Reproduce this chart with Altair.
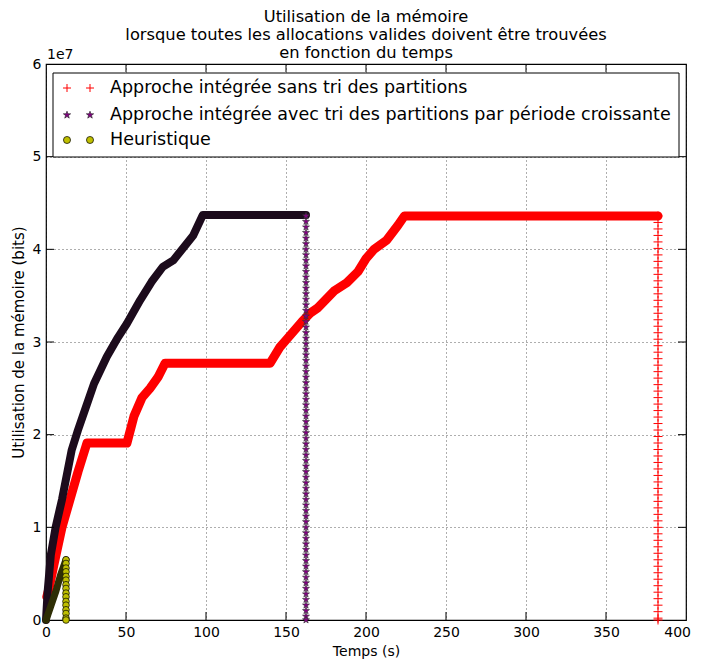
import altair as alt
import pandas as pd

# ---- data (memory in units of 1e7 bits) ----
temps_sans = [0.5, 2, 5, 10, 15, 20, 25.6, 50.6, 55, 60, 65, 70, 74.4, 140, 146, 150, 155, 160, 165, 170, 175,
              180, 188, 195, 200, 205, 213, 220, 224, 382.5]
mem_sans = [0.25, 0.35, 0.6, 1.0, 1.3, 1.6, 1.91, 1.91, 2.2, 2.4, 2.5, 2.62, 2.77, 2.77, 2.94, 3.02, 3.12, 3.22,
            3.31, 3.37, 3.46, 3.55, 3.64, 3.76, 3.9, 4.0, 4.1, 4.26, 4.36, 4.36]

temps_avec = [0, 1, 3, 6, 10, 16, 20, 25, 30, 38, 45, 50.6, 58.8, 66, 73, 79.5, 86, 92, 98, 162.5]
mem_avec = [0.0, 0.3, 0.7, 1.0, 1.3, 1.83, 2.05, 2.3, 2.55, 2.84, 3.05, 3.2, 3.45, 3.65, 3.81, 3.88, 4.02,
            4.15, 4.37, 4.37]

temps_heur = [0, 3, 6, 9, 12.5]
mem_heur = [0.0, 0.15, 0.3, 0.48, 0.65]

chute_sans_t = 382.5
chute_sans = [4.36, 4.29, 4.22, 4.15, 4.08, 4.01, 3.94, 3.87, 3.80, 3.73, 3.66, 3.59, 3.52, 3.45, 3.38, 3.31,
              3.24, 3.17, 3.10, 3.03, 2.96, 2.89, 2.82, 2.75, 2.68, 2.61, 2.54, 2.47, 2.40, 2.33, 2.26, 2.19,
              2.12, 2.05, 1.98, 1.91, 1.84, 1.77, 1.70, 1.63, 1.56, 1.49, 1.42, 1.35, 1.28, 1.21, 1.14, 1.07,
              1.00, 0.93, 0.86, 0.79, 0.72, 0.65, 0.58, 0.51, 0.44, 0.37, 0.30, 0.23, 0.16, 0.09, 0.02, 0.00]

chute_avec_t = 162.5
chute_avec = [4.36, 4.30, 4.24, 4.18, 4.12, 4.06, 4.00, 3.94, 3.88, 3.82, 3.76, 3.70, 3.64, 3.58, 3.52, 3.46,
              3.40, 3.34, 3.28, 3.22, 3.16, 3.10, 3.04, 2.98, 2.92, 2.86, 2.80, 2.74, 2.68, 2.62, 2.56, 2.50,
              2.44, 2.38, 2.32, 2.26, 2.20, 2.14, 2.08, 2.02, 1.96, 1.90, 1.84, 1.78, 1.72, 1.66, 1.60, 1.54,
              1.48, 1.42, 1.36, 1.30, 1.24, 1.18, 1.12, 1.06, 1.00, 0.94, 0.88, 0.82, 0.76, 0.70, 0.64, 0.58,
              0.52, 0.46, 0.40, 0.34, 0.28, 0.22, 0.16, 0.10, 0.04, 0.00]

chute_heur_t = 12.5
chute_heur = [0.65, 0.61, 0.56, 0.52, 0.47, 0.43, 0.38, 0.34, 0.29, 0.25, 0.20, 0.16, 0.11, 0.07, 0.02, 0.00]

x_ticks = [0, 50, 100, 150, 200, 250, 300, 350, 400]
y_ticks = [0, 1, 2, 3, 4, 5, 6]

legend_labels = ["Approche intégrée sans tri des partitions",
                 "Approche intégrée avec tri des partitions par période croissante",
                 "Heuristique"]

title_lines = ["Utilisation de la mémoire",
               "lorsque toutes les allocations valides doivent être trouvées",
               "en fonction du temps"]

# ---- layout ----
W, H = 640, 556
FONT = "DejaVu Sans"
PLUS = "M-1,0L1,0M0,-1L0,1"
STAR = "M0,-1L0.235,-0.324L0.951,-0.309L0.380,0.124L0.588,0.809L0,0.4L-0.588,0.809L-0.380,0.124L-0.951,-0.309L-0.235,-0.324Z"

xs = alt.Scale(domain=[0, 400], nice=False, zero=False)
ys = alt.Scale(domain=[0, 6], nice=False, zero=False)

X = alt.X("t:Q", scale=xs, title="Temps (s)",
          axis=alt.Axis(values=x_ticks, format="d", grid=True, labelFlush=True, labelFlushOffset=4.5))
Y = alt.Y("m:Q", scale=ys, title="Utilisation de la mémoire (bits)",
          axis=alt.Axis(values=y_ticks, format="d", grid=True, labelFlush=False, titleFontSize=15))

df_sans = pd.DataFrame({"t": temps_sans, "m": mem_sans})
df_avec = pd.DataFrame({"t": temps_avec, "m": mem_avec})
df_heur = pd.DataFrame({"t": temps_heur, "m": mem_heur})
df_cs = pd.DataFrame({"t": [chute_sans_t] * len(chute_sans), "m": chute_sans})
df_ca = pd.DataFrame({"t": [chute_avec_t] * len(chute_avec), "m": chute_avec})
df_ch = pd.DataFrame({"t": [chute_heur_t] * len(chute_heur), "m": chute_heur})

line_sans = alt.Chart(df_sans).mark_line(color="#ff0000", strokeWidth=9, strokeJoin="round",
                                         strokeCap="round").encode(x=X, y=Y)
line_avec = alt.Chart(df_avec).mark_line(color="#1c0b1c", strokeWidth=8, strokeJoin="round",
                                         strokeCap="round").encode(x=X, y=Y)
line_heur = alt.Chart(df_heur).mark_line(color="#2e2e05", strokeWidth=7, strokeJoin="round",
                                         strokeCap="round").encode(x=X, y=Y)

pts_sans = alt.Chart(df_cs).mark_point(shape=PLUS, size=81, filled=False, color="#ff0000",
                                       strokeWidth=1, opacity=1).encode(x=X, y=Y)
pts_avec = alt.Chart(df_ca).mark_point(shape=STAR, size=55, filled=True, fill="#800080",
                                       stroke="#333333", strokeWidth=0.6, opacity=1).encode(x=X, y=Y)
pts_heur = alt.Chart(df_ch).mark_point(shape="circle", size=45, filled=True, fill="#bfbf00",
                                       stroke="#000000", strokeWidth=0.7, opacity=1).encode(x=X, y=Y)

# inward ticks (matplotlib classic style)
df_xt = pd.DataFrame({"t": x_ticks[1:-1]})
df_yt = pd.DataFrame({"m": y_ticks[1:-1]})
tick_style = dict(color="#000000", strokeWidth=1)
xt_bot = alt.Chart(df_xt).mark_rule(**tick_style).encode(x=alt.X("t:Q", scale=xs), y=alt.value(H), y2=alt.value(H - 8))
xt_top = alt.Chart(df_xt).mark_rule(**tick_style).encode(x=alt.X("t:Q", scale=xs), y=alt.value(0), y2=alt.value(8))
yt_l = alt.Chart(df_yt).mark_rule(**tick_style).encode(y=alt.Y("m:Q", scale=ys), x=alt.value(0), x2=alt.value(8))
yt_r = alt.Chart(df_yt).mark_rule(**tick_style).encode(y=alt.Y("m:Q", scale=ys), x=alt.value(W), x2=alt.value(W - 8))

# offset label
offset_txt = alt.Chart(pd.DataFrame({"s": ["1e7"]})).mark_text(
    font=FONT, fontSize=14, align="left", baseline="bottom", color="#000000"
).encode(text="s:N", x=alt.value(1), y=alt.value(-2))

# title as text lines
title_marks = [
    alt.Chart(pd.DataFrame({"s": [line]})).mark_text(
        font=FONT, fontSize=16.3, align="center", baseline="alphabetic", color="#000000"
    ).encode(text="s:N", x=alt.value(W / 2), y=alt.value(yy))
    for line, yy in zip(title_lines, [-42.5, -24.5, -6.3])
]

# legend box
box = alt.Chart(pd.DataFrame({"a": [0]})).mark_rect(
    fill="#ffffff", stroke="#000000", strokeWidth=1
).encode(x=alt.value(7), x2=alt.value(633), y=alt.value(9), y2=alt.value(93))

ly = [24, 51, 76]
leg_scale = alt.Scale(domain=[0, H], range=[0, H])
leg_text = alt.Chart(pd.DataFrame({"s": legend_labels, "y": ly})).mark_text(
    font=FONT, fontSize=17.5, align="left", baseline="middle", color="#000000"
).encode(text="s:N", x=alt.value(64), y=alt.Y("y:Q", scale=leg_scale, axis=None))

df_l1 = pd.DataFrame({"px": [21, 44], "py": [ly[0]] * 2})
df_l2 = pd.DataFrame({"px": [21, 44], "py": [ly[1]] * 2})
df_l3 = pd.DataFrame({"px": [21, 44], "py": [ly[2]] * 2})
LX = alt.X("px:Q", scale=alt.Scale(domain=[0, W], range=[0, W]), axis=None)
LY = alt.Y("py:Q", scale=leg_scale, axis=None)
leg1 = alt.Chart(df_l1).mark_point(shape=PLUS, size=64, filled=False, color="#ff0000",
                                   strokeWidth=1, opacity=1).encode(x=LX, y=LY)
leg2 = alt.Chart(df_l2).mark_point(shape=STAR, size=60, filled=True, fill="#800080",
                                   stroke="#222222", strokeWidth=0.6, opacity=1).encode(x=LX, y=LY)
leg3 = alt.Chart(df_l3).mark_point(shape="circle", size=50, filled=True, fill="#bfbf00",
                                   stroke="#000000", strokeWidth=0.7, opacity=1).encode(x=LX, y=LY)

data_layer = alt.layer(line_sans, line_avec, line_heur, pts_sans, pts_avec, pts_heur,
                       xt_bot, xt_top, yt_l, yt_r, offset_txt, *title_marks)
legend_layer = alt.layer(box, leg_text, leg1, leg2, leg3).resolve_scale(x="independent", y="independent")

chart = alt.layer(data_layer, legend_layer).resolve_scale(
    x="independent", y="independent"
).properties(
    width=W, height=H,
    autosize=alt.AutoSizeParams(type="none"),
    padding={"left": 38, "top": 56, "right": 9, "bottom": 40},
).configure_view(
    stroke="#000000", strokeWidth=1.2
).configure_axis(
    labelFont=FONT, titleFont=FONT, labelFontSize=14, titleFontSize=14,
    labelColor="#000000", titleColor="#000000", titleFontWeight="normal",
    ticks=False, domain=False, labelPadding=5,
    gridColor="#000000", gridDash=[1, 3], gridWidth=0.8, gridOpacity=0.8,
).configure_axisX(
    titlePadding=5
).configure_axisY(
    titlePadding=6
)

chart.save("out.html", embed_options={"renderer": "svg", "actions": False})
